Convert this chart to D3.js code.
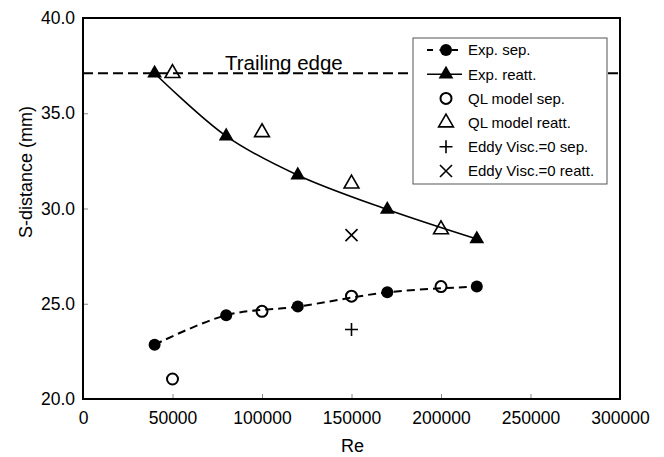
<!DOCTYPE html>
<html>
<head>
<meta charset="utf-8">
<script src="https://cdn.jsdelivr.net/npm/d3@7"></script>
<style>
  body { margin: 0; background: #fff; }
  text { font-family: Arial, "Liberation Sans", sans-serif; fill: #000; }
</style>
</head>
<body>
<svg id="chart" width="664" height="457"></svg>
<script>
// Data
const reExpSep = [40000, 80000, 120000, 170000, 220000];
const sExpSep = [22.85, 24.4, 24.85, 25.6, 25.9];
const reExpReatt = [40000, 80000, 120000, 170000, 220000];
const sExpReatt = [37.1, 33.8, 31.75, 29.95, 28.4];
const reQlSep = [50000, 100000, 150000, 200000];
const sQlSep = [21.05, 24.6, 25.4, 25.9];
const reQlReatt = [50000, 100000, 150000, 200000];
const sQlReatt = [37.1, 34.0, 31.3, 28.9];
const reEddySep = [150000];
const sEddySep = [23.65];
const reEddyReatt = [150000];
const sEddyReatt = [28.6];
const trailingEdge = 37.1;
const xTicks = [0, 50000, 100000, 150000, 200000, 250000, 300000];
const yTicks = [20, 25, 30, 35, 40];
const legendLabels = ["Exp. sep.", "Exp. reatt.", "QL model sep.", "QL model reatt.", "Eddy Visc.=0 sep.", "Eddy Visc.=0 reatt."];

const zip = (xs, ys) => xs.map((x, i) => ({x: x, y: ys[i]}));

const svg = d3.select("#chart");
const plotLeft = 83, plotRight = 620, plotTop = 18, plotBottom = 399;

const x = d3.scaleLinear().domain([0, 300000]).range([plotLeft, plotRight]);
const y = d3.scaleLinear().domain([20, 40]).range([plotBottom, plotTop]);

// Axes, ticks inside
const xAxis = svg.append("g")
	.attr("transform", `translate(0,${plotBottom})`)
	.call(d3.axisBottom(x).tickValues(xTicks).tickSize(-5).tickPadding(13).tickFormat(d3.format("d")));
const yAxis = svg.append("g")
	.attr("transform", `translate(${plotLeft},0)`)
	.call(d3.axisLeft(y).tickValues(yTicks).tickSize(-5).tickPadding(8).tickFormat(d3.format(".1f")));

[xAxis, yAxis].forEach(g => {
	g.select(".domain").remove();
	g.selectAll(".tick line").attr("stroke", "#888").attr("stroke-width", 1);
	g.selectAll(".tick text").style("font-size", "17.5px").attr("fill", "#000");
});

// Frame
svg.append("rect")
	.attr("x", plotLeft).attr("y", plotTop)
	.attr("width", plotRight - plotLeft).attr("height", plotBottom - plotTop)
	.attr("fill", "none").attr("stroke", "#000").attr("stroke-width", 2);

// Axis titles
svg.append("text")
	.attr("x", (plotLeft + plotRight) / 2 + 1).attr("y", 452)
	.attr("text-anchor", "middle").style("font-size", "18px")
	.text("Re");
svg.append("text")
	.attr("transform", "translate(32,172) rotate(-90)")
	.attr("text-anchor", "middle").style("font-size", "18px")
	.text("S-distance (mm)");

// Trailing edge
svg.append("line")
	.attr("x1", plotLeft).attr("x2", plotRight)
	.attr("y1", y(trailingEdge)).attr("y2", y(trailingEdge))
	.attr("stroke", "#000").attr("stroke-width", 2).attr("stroke-dasharray", "10,5");
svg.append("text")
	.attr("x", 225).attr("y", y(trailingEdge) - 3)
	.style("font-size", "20.5px")
	.text("Trailing edge");

// Lines
const line = d3.line().x(d => x(d.x)).y(d => y(d.y)).curve(d3.curveCatmullRom.alpha(0.5));

svg.append("path")
	.datum(zip(reExpSep, sExpSep))
	.attr("d", line)
	.attr("fill", "none").attr("stroke", "#000").attr("stroke-width", 2).attr("stroke-dasharray", "8,5");
svg.append("path")
	.datum(zip(reExpReatt, sExpReatt))
	.attr("d", line)
	.attr("fill", "none").attr("stroke", "#000").attr("stroke-width", 1.6);

// Marker shapes
const tri = d3.symbol().type(d3.symbolTriangle).size(95);
function drawMarker(g, kind) {
	if (kind === "fcircle") {
		g.append("circle").attr("r", 6).attr("fill", "#000");
	} else if (kind === "ocircle") {
		g.append("circle").attr("r", 5.5).attr("fill", "none").attr("stroke", "#000").attr("stroke-width", 2);
	} else if (kind === "ftri") {
		g.append("path").attr("d", tri()).attr("fill", "#000");
	} else if (kind === "otri") {
		g.append("path").attr("d", tri()).attr("fill", "none").attr("stroke", "#000").attr("stroke-width", 1.6);
	} else if (kind === "plus") {
		g.append("path").attr("d", "M-6.5,0H6.5M0,-6.5V6.5").attr("stroke", "#000").attr("stroke-width", 1.6);
	} else if (kind === "cross") {
		g.append("path").attr("d", "M-6,-6L6,6M-6,6L6,-6").attr("stroke", "#000").attr("stroke-width", 1.6);
	}
}

const series = [
	{data: zip(reQlSep, sQlSep), kind: "ocircle"},
	{data: zip(reQlReatt, sQlReatt), kind: "otri"},
	{data: zip(reExpSep, sExpSep), kind: "fcircle"},
	{data: zip(reExpReatt, sExpReatt), kind: "ftri"},
	{data: zip(reEddySep, sEddySep), kind: "plus"},
	{data: zip(reEddyReatt, sEddyReatt), kind: "cross"}
];

series.forEach(s => {
	svg.append("g")
		.selectAll("g")
		.data(s.data)
		.join("g")
		.attr("transform", d => `translate(${x(d.x)},${y(d.y)})`)
		.each(function () { drawMarker(d3.select(this), s.kind); });
});

// Legend
const legend = svg.append("g");
legend.append("rect")
	.attr("x", 413).attr("y", 38).attr("width", 194).attr("height", 146)
	.attr("fill", "#fff").attr("stroke", "#555").attr("stroke-width", 1);

const legendKinds = ["fcircle", "ftri", "ocircle", "otri", "plus", "cross"];
const rowY = d3.scaleLinear().domain([0, 5]).range([50, 171]);
legendLabels.forEach((label, i) => {
	const ly = rowY(i);
	if (i === 0) {
		legend.append("line").attr("x1", 427).attr("x2", 462).attr("y1", ly).attr("y2", ly)
			.attr("stroke", "#000").attr("stroke-width", 2).attr("stroke-dasharray", "6,6.5");
	} else if (i === 1) {
		legend.append("line").attr("x1", 427).attr("x2", 462).attr("y1", ly).attr("y2", ly)
			.attr("stroke", "#000").attr("stroke-width", 1.6);
	}
	const m = legend.append("g").attr("transform", `translate(446,${ly})`);
	drawMarker(m, legendKinds[i]);
	legend.append("text")
		.attr("x", 468).attr("y", ly).attr("dy", "0.36em")
		.style("font-size", "15px")
		.text(label);
});
</script>
</body>
</html>
